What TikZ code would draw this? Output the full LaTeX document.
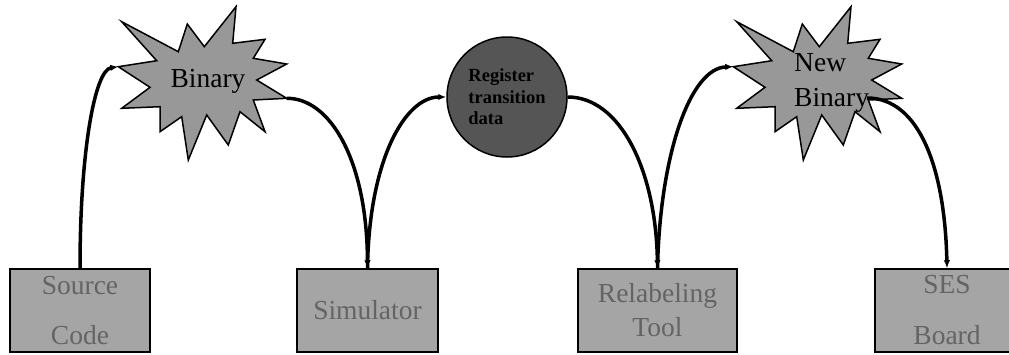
\documentclass[tikz,border=0pt]{standalone}
\usepackage{fontspec}
\setmainfont{Liberation Serif}
\usetikzlibrary{arrows.meta}

\definecolor{boxfill}{RGB}{165,165,165}
\definecolor{boxtext}{RGB}{100,100,100}
\definecolor{burstfill}{RGB}{152,152,152}
\definecolor{regfill}{RGB}{85,85,85}

\tikzset{
  stage/.style={draw=black, line width=1.5pt, fill=boxfill, text=boxtext,
    inner sep=0pt, align=center, minimum height=83pt},
  burst/.style={draw=black, line width=1.5pt, fill=burstfill, line join=miter},
  blabel/.style={inner sep=0pt, text=black},
  flow/.style={line width=3.5pt, -{Latex[length=8pt,width=6.5pt]}},
}

% explosion outline (12 spikes)
\newcommand\burstoutline{(121.7,21.7) -- (178.3,51.7) -- (187.3,24) -- (204.3,46.7)
  -- (236,6.7) -- (232.7,43.3) -- (265,39.3) -- (253.3,58.3) -- (286.7,64)
  -- (256.7,80) -- (286.7,98.3) -- (253.3,100) -- (265,131.7) -- (240,111.7)
  -- (228.3,145) -- (206.7,115) -- (188.3,160) -- (181.7,116.7) -- (160,131.7)
  -- (160,106.7) -- (121.7,108.3) -- (150,87.3) -- (118.3,66.7) -- (156.7,60.7) -- cycle}

\begin{document}
\begin{tikzpicture}[x=1pt,y=-1pt]
\path[use as bounding box] (0,0) rectangle (1009,354);
\clip (0,0) rectangle (1009,354);

% process boxes
\node[stage, minimum width=140pt, font=\fontsize{27.5}{50}\selectfont] (src) at (80,310.5) {Source\\Code};
\node[stage, minimum width=141pt, font=\fontsize{27.5}{33}\selectfont] (sim) at (367.5,310.5) {Simulator};
\node[stage, minimum width=159pt, font=\fontsize{27.5}{34}\selectfont] (rel) at (657.5,310.5) {Relabeling\\Tool};
\node[stage, minimum width=144pt, font=\fontsize{27.5}{51}\selectfont] (ses) at (947,310.5) {SES\\Board};

% explosions
\filldraw[burst] \burstoutline;
\begin{scope}[shift={(615,0)}]
  \filldraw[burst] \burstoutline;
\end{scope}
\node[blabel, anchor=base, font=\fontsize{27.5}{33}\selectfont] (bin) at (208,87) {Binary};
\node[blabel, anchor=north west, align=left, font=\fontsize{27.5}{35}\selectfont] (nbin) at (794,52.8) {New\\Binary};
\coordinate (binL) at (118.3,66.7);
\coordinate (binR) at (286.7,98.3);
\coordinate (nbinL) at (733.3,66.7);
\coordinate (nbinR) at (867,98);

% data circle
\node[circle, draw=black, line width=1.5pt, fill=regfill, minimum size=120pt, inner sep=0pt,
  align=left, font=\bfseries\fontsize{18.5}{21.5}\selectfont] (reg) at (507,97)
  {Register\\transition\\data};

% flow connectors
\draw[flow] (src.north) .. controls (80,150) and (95,70) .. (binL);
\draw[flow] (binR) .. controls (330,98) and (367,160) .. (sim.north);
\draw[flow] (sim.north) .. controls (369,160) and (405,97) .. (reg.west);
\draw[flow] (reg.east) .. controls (620,97) and (656,170) .. (rel.north);
\draw[flow] (rel.north) .. controls (660,155) and (690,68) .. (nbinL);
\draw[flow] (nbinR) .. controls (920,98) and (945,170) .. (ses.north);
\end{tikzpicture}
\end{document}
